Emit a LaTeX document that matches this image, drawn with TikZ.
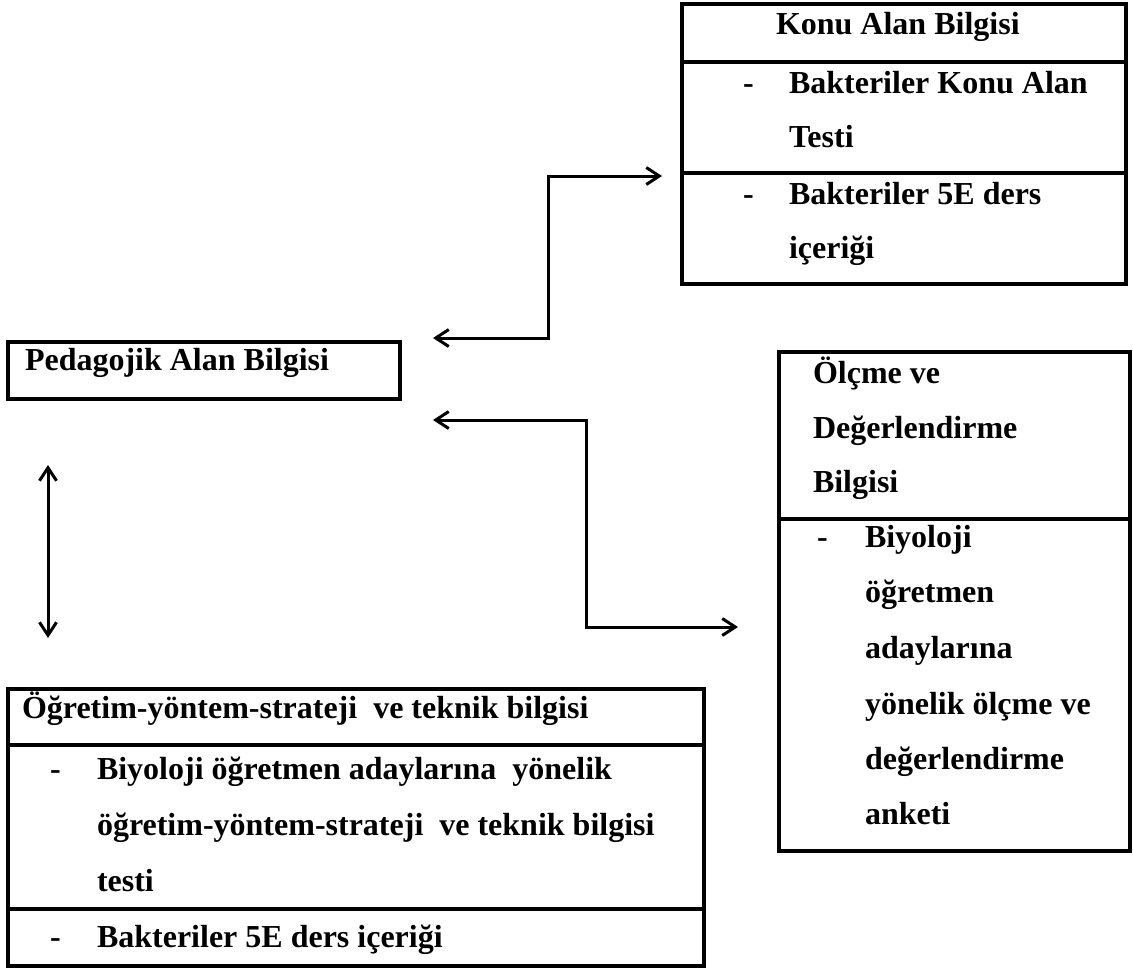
\documentclass[tikz,border=0pt]{standalone}
\usepackage{fontspec}
\setmainfont{Liberation Serif}
\usetikzlibrary{arrows.meta}
\begin{document}
\begin{tikzpicture}[x=1pt,y=-1pt,
  frame/.style={draw, line width=3.2pt, inner sep=0pt, outer sep=0pt, anchor=north west},
  sep/.style={line width=3.2pt},
  txt/.style={anchor=base west, inner sep=0pt, outer sep=0pt, font=\fontsize{32}{40}\selectfont\bfseries},
  link/.style={line width=3pt, {Straight Barb[length=13pt,width=17pt]}-{Straight Barb[length=13pt,width=17pt]}}]
\useasboundingbox (0,0) rectangle (1133,970);
% boxes
\node[frame, minimum width=444pt, minimum height=280pt] (K) at (682,4) {};
\node[frame, minimum width=392pt, minimum height=57pt] (P) at (8,342) {};
\node[frame, minimum width=351pt, minimum height=499pt] (O) at (779,352) {};
\node[frame, minimum width=696pt, minimum height=277pt] (S) at (8,689) {};
% separators
\draw[sep] (K.west |- 0,62) -- (K.east |- 0,62);
\draw[sep] (K.west |- 0,173) -- (K.east |- 0,173);
\draw[sep] (O.west |- 0,519) -- (O.east |- 0,519);
\draw[sep] (S.west |- 0,745) -- (S.east |- 0,745);
\draw[sep] (S.west |- 0,909) -- (S.east |- 0,909);
% texts: Konu Alan Bilgisi
\node[txt] (k1) at (776,34) {Konu Alan Bilgisi};
\node[txt] (k2d) at (743,93) {-};
\node[txt] (k2) at (789,93) {Bakteriler Konu Alan};
\node[txt] (k3) at (789,147) {Testi};
\node[txt] (k4d) at (743,204) {-};
\node[txt] (k4) at (789,204) {Bakteriler 5E ders};
\node[txt] (k5) at (789,258) {içeriği};
% Pedagojik
\node[txt] (p1) at (25,370) {Pedagojik Alan Bilgisi};
% Olcme
\node[txt] (o1) at (813,383) {Ölçme ve};
\node[txt] (o2) at (813,438) {Değerlendirme};
\node[txt] (o3) at (813,492) {Bilgisi};
\node[txt] (o4d) at (817,547) {-};
\node[txt] (o4) at (865,547) {Biyoloji};
\node[txt] (o5) at (865,602) {öğretmen};
\node[txt] (o6) at (865,658) {adaylarına};
\node[txt] (o7) at (865,714) {yönelik ölçme ve};
\node[txt] (o8) at (865,769) {değerlendirme};
\node[txt] (o9) at (865,824) {anketi};
% Ogretim
\node[txt] (s1) at (22,718) {Öğretim-yöntem-strateji~ ve teknik bilgisi};
\node[txt] (s2d) at (50,779) {-};
\node[txt] (s2) at (97,779) {Biyoloji öğretmen adaylarına~ yönelik};
\node[txt] (s3) at (97,835) {öğretim-yöntem-strateji~ ve teknik bilgisi};
\node[txt] (s4) at (97,891) {testi};
\node[txt] (s5d) at (50,947) {-};
\node[txt] (s5) at (97,947) {Bakteriler 5E ders içeriği};
% connectors
\coordinate (a1l) at (433,338);
\coordinate (a1r) at (662,176);
\coordinate (a2l) at (433,420);
\coordinate (a2r) at (738,627);
\coordinate (v1) at (48,465);
\coordinate (v2) at (48,638);
\draw[link] (a1l) -- ++(115,0) |- (a1r);
\draw[link] (a2l) -- ++(153,0) |- (a2r);
\draw[link] (v1) -- (v2);
\end{tikzpicture}
\end{document}
